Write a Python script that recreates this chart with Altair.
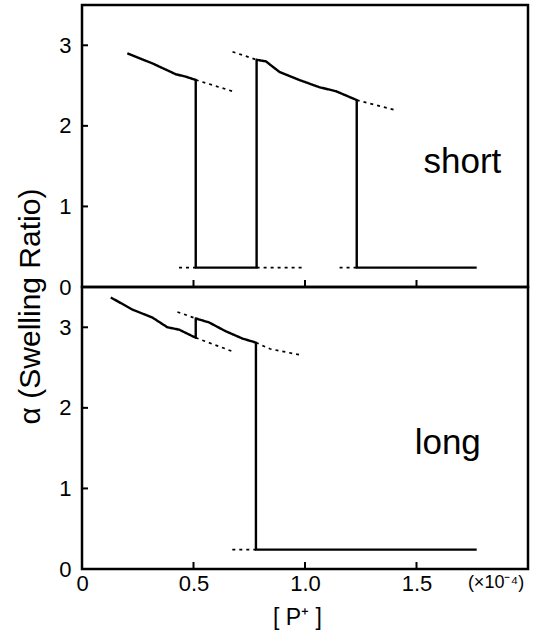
import altair as alt
import pandas as pd

FONT = "Liberation Sans"

# ---------------- data (P+ in 1e-4 units, alpha) ----------------
# "short" panel
short_solid_x = [0.203, 0.316, 0.421, 0.466, 0.51, 0.51, 0.783, 0.783, 0.825, 0.885, 0.974, 1.064, 1.139, 1.232, 1.232, 1.77]
short_solid_y = [2.90, 2.775, 2.64, 2.61, 2.57, 0.24, 0.24, 2.82, 2.80, 2.67, 2.57, 2.48, 2.43, 2.32, 0.24, 0.24]
short_dash = [
    ([0.51, 0.675], [2.57, 2.43]),
    ([0.675, 0.783], [2.92, 2.82]),
    ([1.232, 1.40], [2.32, 2.20]),
    ([0.435, 0.51], [0.24, 0.24]),
    ([0.783, 0.99], [0.24, 0.24]),
    ([1.155, 1.232], [0.24, 0.24]),
]
# "long" panel
long_solid_x = [0.129, 0.226, 0.316, 0.383, 0.436, 0.51, 0.51, 0.57, 0.645, 0.72, 0.78, 0.78, 1.77]
long_solid_y = [3.37, 3.22, 3.12, 3.00, 2.97, 2.87, 3.11, 3.06, 2.95, 2.86, 2.81, 0.24, 0.24]
long_dash = [
    ([0.428, 0.51], [3.19, 3.11]),
    ([0.51, 0.675], [2.87, 2.70]),
    ([0.78, 0.845, 0.974], [2.81, 2.73, 2.66]),
    ([0.674, 0.78], [0.24, 0.24]),
]

x_ticks = [0.5, 1.0, 1.5]
x_labels = [0, 0.5, 1.0, 1.5]
y_ticks = [1, 2, 3]
y_labels = [0, 1, 2, 3]

panel_labels = {"short": (1.706, 1.55), "long": (1.64, 1.57)}


def build_df(solid_x, solid_y, dashes):
    rows = []
    for i, (x, y) in enumerate(zip(solid_x, solid_y)):
        rows.append({"seg": "s", "order": i, "x": x, "y": y, "style": "solid"})
    for k, (xs, ys) in enumerate(dashes):
        for i, (x, y) in enumerate(zip(xs, ys)):
            rows.append({"seg": f"d{k}", "order": i, "x": x, "y": y, "style": "dashed"})
    return pd.DataFrame(rows)


W, H = 446, 282
xscale = alt.Scale(domain=[0, 2.0], nice=False, zero=False)
yscale = alt.Scale(domain=[0, 3.5], nice=False, zero=False)


def panel(df, name, bottom):
    if bottom:
        xaxis = alt.Axis(values=x_labels, labelExpr="datum.value == 0 ? '0' : format(datum.value, '.1f')",
                         title="[ P\u207a ]", titleFontSize=23, titleFont=FONT, titleFontWeight="normal",
                         titleX=215, titleY=55, titleBaseline="alphabetic", titleAlign="center",
                         labelFontSize=22, labelFont=FONT, labelPadding=4, labelFlush=False,
                         labelOverlap=False, labelColor="black", titleColor="black")
        yaxis = alt.Axis(values=y_labels, title="\u03b1 (Swelling Ratio)", titleFontSize=30, titleFont=FONT,
                         titleFontWeight="normal", titleX=-43, titleY=19, titleAngle=270,
                         titleBaseline="alphabetic", titleAlign="center",
                         labelFontSize=22, labelFont=FONT, labelPadding=11, labelColor="black", titleColor="black")
    else:
        xaxis = None
        yaxis = alt.Axis(values=y_labels, title=None, labelFontSize=22, labelFont=FONT, labelPadding=11,
                         labelColor="black")

    X = lambda f: alt.X(f, type="quantitative", scale=xscale, axis=xaxis)
    Y = lambda f: alt.Y(f, type="quantitative", scale=yscale, axis=yaxis)

    lines = alt.Chart(df).mark_line(color="black", strokeCap="butt", strokeJoin="round").encode(
        x=X("x"), y=Y("y"), detail="seg:N", order="order:Q",
        strokeDash=alt.StrokeDash("style:N", scale=alt.Scale(domain=["solid", "dashed"], range=[[1, 0], [3, 4]]), legend=None),
        strokeWidth=alt.StrokeWidth("style:N", scale=alt.Scale(domain=["solid", "dashed"], range=[2.4, 1.7]), legend=None),
    )
    xt = alt.Chart(pd.DataFrame({"v": x_ticks})).mark_rule(color="black", strokeWidth=2).encode(
        x=X("v"), y=alt.value(H), y2=alt.value(H - 7))
    yt = alt.Chart(pd.DataFrame({"v": y_ticks})).mark_rule(color="black", strokeWidth=2).encode(
        y=Y("v"), x=alt.value(0), x2=alt.value(6))
    lx, ly = panel_labels[name]
    lab = alt.Chart(pd.DataFrame({"x": [lx], "y": [ly], "t": [name]})).mark_text(
        fontSize=35, font=FONT, color="black", align="center", baseline="middle").encode(
        x=X("x"), y=Y("y"), text="t:N")
    layers = [lines, xt, yt, lab]
    if bottom:
        unit = alt.Chart(pd.DataFrame({"t": ["(\u00d710\u207b\u2074)"]})).mark_text(
            fontSize=18, font=FONT, color="black", align="center", baseline="middle").encode(
            x=alt.value(414), y=alt.value(296), text="t:N")
        layers.append(unit)
    return alt.layer(*layers).properties(width=W, height=H)


top = panel(build_df(short_solid_x, short_solid_y, short_dash), "short", False)
bot = panel(build_df(long_solid_x, long_solid_y, long_dash), "long", True)

chart = alt.vconcat(top, bot, spacing=0, bounds="flush").properties(
    padding={"left": 13, "top": 3, "right": 5, "bottom": 5}, background="white"
).configure_view(stroke="black", strokeWidth=2.5).configure_axis(
    grid=False, domain=False, ticks=False
)

chart.save("out.html", embed_options={"renderer": "svg", "actions": False})
